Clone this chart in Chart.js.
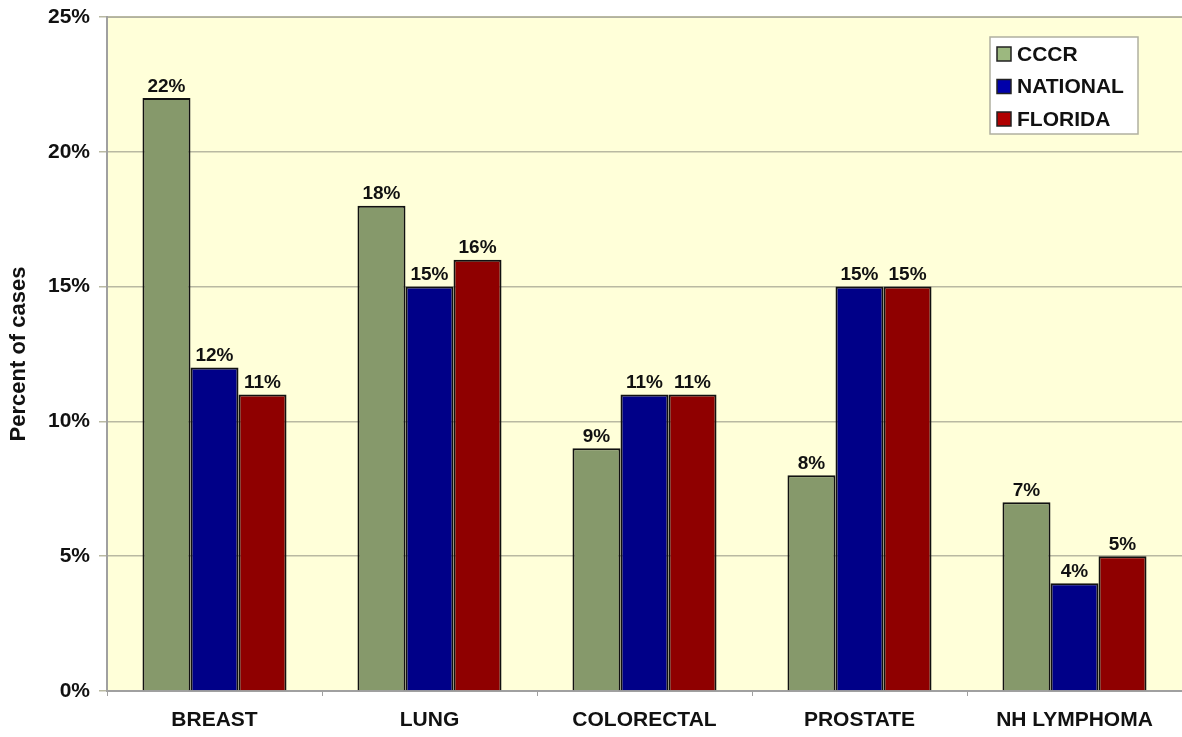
<!DOCTYPE html>
<html>
<head>
<meta charset="utf-8">
<script src="https://cdn.jsdelivr.net/npm/chart.js@4/dist/chart.umd.min.js"></script>
<style>
  html, body { margin: 0; padding: 0; background: #fff; }
  #wrap { width: 1182px; height: 737px; position: relative; }
</style>
</head>
<body>
<div id="wrap"><canvas id="myChart"></canvas></div>
<script>
const categories = ["BREAST", "LUNG", "COLORECTAL", "PROSTATE", "NH LYMPHOMA"];
const cccr = [22, 18, 9, 8, 7];
const national = [12, 15, 11, 15, 4];
const florida = [11, 16, 11, 15, 5];
const seriesNames = ["CCCR", "NATIONAL", "FLORIDA"];
const seriesColors = ["#86996b", "#000088", "#8f0000"];
const legendSwatches = ["#9cb87f", "#0000aa", "#b00000"];

const family = "'Liberation Sans', Arial, sans-serif";

// pale yellow plot background
const plotBackground = {
  id: "plotBackground",
  beforeDraw(chart) {
    const a = chart.chartArea;
    const c = chart.ctx;
    c.save();
    c.fillStyle = "#ffffd9";
    c.fillRect(a.left, a.top, a.right - a.left, a.bottom - a.top);
    c.strokeStyle = "#a8a8a0";
    c.lineWidth = 2;
    c.beginPath();
    c.moveTo(a.left, a.top);
    c.lineTo(a.right, a.top);
    c.stroke();
    c.restore();
  },
};

// value labels on top of each bar
const barLabels = {
  id: "barLabels",
  afterDatasetsDraw(chart) {
    const c = chart.ctx;
    c.save();
    c.font = "bold 19px " + family;
    c.fillStyle = "#111";
    c.textAlign = "center";
    c.textBaseline = "bottom";
    chart.data.datasets.forEach((ds, i) => {
      chart.getDatasetMeta(i).data.forEach((bar, j) => {
        c.fillText(ds.data[j] + "%", bar.x, bar.y - 2);
      });
    });
    c.restore();
  },
};

// boxed legend in the upper right
const boxLegend = {
  id: "boxLegend",
  afterDraw(chart) {
    const c = chart.ctx;
    const x = 990, y = 37, w = 148, h = 97;
    c.save();
    c.fillStyle = "#ffffff";
    c.fillRect(x, y, w, h);
    c.strokeStyle = "#b0b0a0";
    c.lineWidth = 1.5;
    c.strokeRect(x, y, w, h);
    c.font = "bold 21px " + family;
    c.textBaseline = "middle";
    c.textAlign = "left";
    chart.data.datasets.forEach((ds, i) => {
      const cy = y + 17 + i * 32.5;
      c.fillStyle = legendSwatches[i];
      c.fillRect(x + 7, cy - 7, 14, 14);
      c.strokeStyle = "#222";
      c.lineWidth = 1.5;
      c.strokeRect(x + 7, cy - 7, 14, 14);
      c.fillStyle = "#111";
      c.fillText(ds.label, x + 27, cy + 1);
    });
    c.restore();
  },
};

const ctx = document.getElementById("myChart");

new Chart(ctx, {
  type: "bar",
  data: {
    labels: categories,
    datasets: [cccr, national, florida].map((values, i) => ({
      label: seriesNames[i],
      data: values,
      backgroundColor: seriesColors[i],
      borderColor: "#111",
      borderWidth: 2,
      borderSkipped: "bottom",
    })),
  },
  options: {
    responsive: true,
    maintainAspectRatio: false,
    animation: false,
    categoryPercentage: 0.67,
    barPercentage: 1.0,
    layout: {
      padding: { left: 0, right: 0, top: 17, bottom: 0 },
    },
    plugins: {
      legend: { display: false },
      tooltip: { enabled: false },
    },
    scales: {
      x: {
        afterFit(scale) { scale.height = 46; },
        grid: {
          offset: true,
          drawOnChartArea: false,
          color: "#a0a0a0",
          tickLength: 5,
        },
        border: { color: "#a0a0a0", width: 2 },
        ticks: {
          color: "#111",
          padding: 12,
          font: { family: family, size: 21, weight: "bold" },
        },
      },
      y: {
        min: 0,
        max: 25,
        afterFit(scale) {
          scale.width = 107;
          scale.paddingTop = 0;
        },
        grid: {
          color: "#b9b9a2",
          lineWidth: 1.5,
          tickLength: 8,
        },
        border: { color: "#a0a0a0", width: 2 },
        ticks: {
          stepSize: 5,
          color: "#111",
          padding: 9,
          callback: (v) => v + "%",
          font: { family: family, size: 21, weight: "bold" },
        },
        title: {
          display: true,
          text: "Percent of cases",
          color: "#111",
          padding: { top: 6, bottom: 0 },
          font: { family: family, size: 22, weight: "bold" },
        },
      },
    },
  },
  plugins: [plotBackground, barLabels, boxLegend],
});
</script>
</body>
</html>
